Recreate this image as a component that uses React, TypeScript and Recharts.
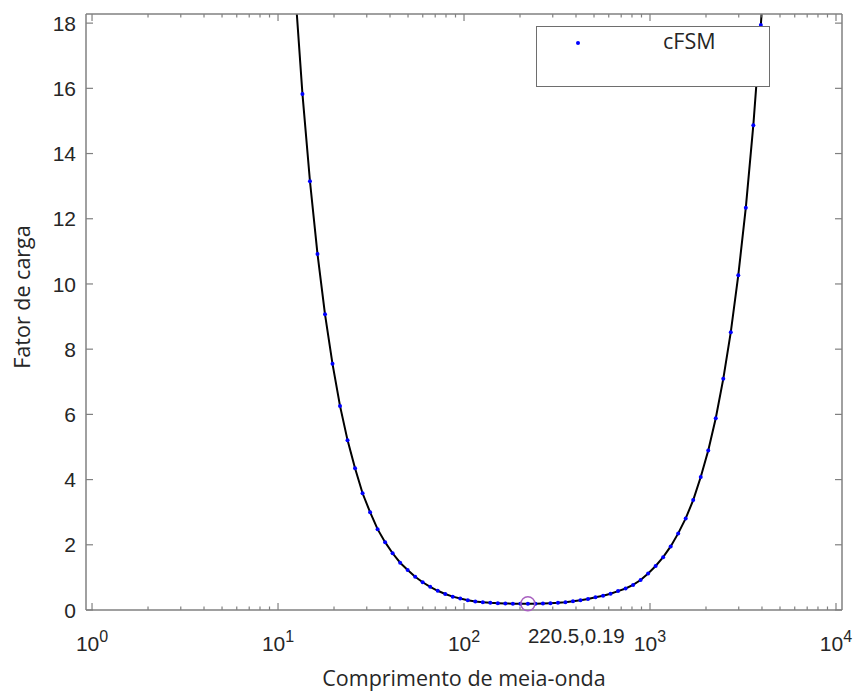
import { ComposedChart, Line, Scatter, XAxis, YAxis } from "recharts";

// half-wavelength lengths and load factor of the cFSM curve
const lengths = [
  12.33, 13.53, 14.85, 16.3, 17.89, 19.63, 21.54, 23.64, 25.95, 28.48, 31.26, 34.3,
  37.65, 41.32, 45.35, 49.77, 54.62, 59.95, 65.79, 72.21, 79.25, 86.97, 95.45, 104.76,
  114.98, 126.19, 138.49, 151.99, 166.81, 183.07, 200.92, 220.51, 242.01, 265.61, 291.5,
  319.92, 351.12, 385.35, 422.92, 464.16, 509.41, 559.08, 613.59, 673.42, 739.07, 811.13,
  890.22, 977.01, 1072.27, 1176.81, 1291.55, 1417.47, 1555.68, 1707.35, 1873.82, 2056.52,
  2257.02, 2477.08, 2718.59, 2983.65, 3274.55, 3593.81, 3944.19, 4328.76,
];
const loadFactor = [
  19.1, 15.83, 13.15, 10.92, 9.07, 7.55, 6.26, 5.21, 4.35, 3.58, 3.0, 2.48,
  2.08, 1.74, 1.45, 1.23, 1.02, 0.85, 0.71, 0.59, 0.49, 0.41, 0.35, 0.3,
  0.26, 0.24, 0.22, 0.21, 0.2, 0.195, 0.19, 0.19, 0.195, 0.2, 0.21,
  0.22, 0.24, 0.27, 0.3, 0.34, 0.39, 0.44, 0.5, 0.58, 0.66, 0.77,
  0.92, 1.12, 1.35, 1.62, 1.95, 2.35, 2.81, 3.37, 4.08, 4.89,
  5.88, 7.09, 8.52, 10.27, 12.34, 14.87, 17.94, 21.6,
];
const xMajorTicks = [1, 10, 100, 1000, 10000];
const xMinorSteps = [2, 3, 4, 5, 6, 7, 8, 9];
const yTicks = [0, 2, 4, 6, 8, 10, 12, 14, 16, 18];
const minPoint = [{ x: 220.5, y: 0.19 }];

const X_DOMAIN = [0.928, 10772];
const Y_DOMAIN = [0, 18.28];

const AXIS = "#808080";
const TEXT = "#262626";
const TICK_FONT = "'Liberation Sans', Arial, sans-serif";
const TITLE_FONT = "'Open Sans', sans-serif";

const curve = lengths.map((len, i) => ({ len, fac: loadFactor[i] }));
const xTicks = [
  ...xMajorTicks,
  ...xMajorTicks.slice(0, -1).flatMap((d) => xMinorSteps.map((s) => s * d)),
].sort((a, b) => a - b);

const isMajor = (v: number) => Math.abs(Math.log10(v) - Math.round(Math.log10(v))) < 1e-6;

function BottomTick({ x, y, payload }: any) {
  const v = payload.value;
  const major = isMajor(v);
  return (
    <g>
      <line x1={x} y1={y} x2={x} y2={y - (major ? 7 : 3.5)} stroke={AXIS} strokeWidth={1.2} />
      {major && (
        <text x={x} y={y + 41} textAnchor="middle" fontFamily={TICK_FONT} fontSize={21} fill={TEXT}>
          10
          <tspan dy={-9} fontSize={16}>
            {Math.round(Math.log10(v))}
          </tspan>
        </text>
      )}
    </g>
  );
}

function TopTick({ x, y, payload }: any) {
  const major = isMajor(payload.value);
  return <line x1={x} y1={y} x2={x} y2={y + (major ? 7 : 3.5)} stroke={AXIS} strokeWidth={1.2} />;
}

function LeftTick({ x, y, payload }: any) {
  return (
    <g>
      <line x1={x} y1={y} x2={x + 7} y2={y} stroke={AXIS} strokeWidth={1.2} />
      <text x={x - 10} y={y} dy="0.36em" textAnchor="end" fontFamily={TICK_FONT} fontSize={21} fill={TEXT}>
        {payload.value}
      </text>
    </g>
  );
}

function RightTick({ x, y }: any) {
  return <line x1={x} y1={y} x2={x - 7} y2={y} stroke={AXIS} strokeWidth={1.2} />;
}

function MinMarker(props: any) {
  const { cx, cy, payload } = props;
  return (
    <g>
      <circle cx={cx} cy={cy} r={7} fill="none" stroke="#a860c0" strokeWidth={1.4} />
      <text x={cx} y={cy + 39.5} fontFamily={TICK_FONT} fontSize={20.5} fill={TEXT}>
        {`${payload.x},${payload.y}`}
      </text>
    </g>
  );
}

function XTitle() {
  return (
    <text x={464} y={686} textAnchor="middle" fontFamily={TITLE_FONT} fontSize={21.5} fill={TEXT}>
      Comprimento de meia-onda
    </text>
  );
}

function YTitle() {
  return (
    <text
      x={30}
      y={297}
      transform="rotate(-90, 30, 297)"
      textAnchor="middle"
      fontFamily={TITLE_FONT}
      fontSize={21.5}
      fill={TEXT}
    >
      Fator de carga
    </text>
  );
}

export default function App() {
  return (
    <div style={{ position: "absolute", left: 0, top: 0, width: 855, height: 694, background: "#fff" }}>
      <ComposedChart width={855} height={694} data={curve} margin={{ top: 13, right: 12, bottom: 0, left: 0 }}>
        <XAxis
          xAxisId="bottom"
          dataKey="len"
          type="number"
          scale="log"
          domain={X_DOMAIN}
          allowDataOverflow
          ticks={xTicks}
          interval={0}
          height={84}
          tickSize={0}
          tickMargin={0}
          tickLine={false}
          tick={<BottomTick />}
          axisLine={{ stroke: AXIS, strokeWidth: 1.5 }}
          label={<XTitle />}
        />
        <XAxis
          xAxisId="top"
          orientation="top"
          dataKey="x"
          type="number"
          scale="log"
          domain={X_DOMAIN}
          ticks={xTicks}
          interval={0}
          height={1}
          tickSize={0}
          tickMargin={0}
          tickLine={false}
          tick={<TopTick />}
          axisLine={{ stroke: AXIS, strokeWidth: 1.5 }}
        />
        <YAxis
          yAxisId="left"
          type="number"
          domain={Y_DOMAIN}
          allowDataOverflow
          ticks={yTicks}
          interval={0}
          width={86}
          tickSize={0}
          tickMargin={0}
          tickLine={false}
          tick={<LeftTick />}
          axisLine={{ stroke: AXIS, strokeWidth: 1.5 }}
          label={<YTitle />}
        />
        <YAxis
          yAxisId="right"
          orientation="right"
          dataKey="y"
          type="number"
          domain={Y_DOMAIN}
          ticks={yTicks}
          interval={0}
          width={1}
          tickSize={0}
          tickMargin={0}
          tickLine={false}
          tick={<RightTick />}
          axisLine={{ stroke: AXIS, strokeWidth: 1.5 }}
        />
        <Line
          xAxisId="bottom"
          yAxisId="left"
          dataKey="fac"
          stroke="#000"
          strokeWidth={2}
          dot={false}
          activeDot={false}
          isAnimationActive={false}
        />
        <Line
          xAxisId="bottom"
          yAxisId="left"
          dataKey="fac"
          stroke="none"
          strokeWidth={0}
          dot={{ r: 2, fill: "#0000ff", stroke: "none" }}
          activeDot={false}
          isAnimationActive={false}
        />
        <Scatter
          xAxisId="top"
          yAxisId="right"
          data={minPoint}
          dataKey="y"
          shape={<MinMarker />}
          isAnimationActive={false}
        />
      </ComposedChart>
      <div
        style={{
          position: "absolute",
          left: 536,
          top: 26,
          width: 234,
          height: 61,
          boxSizing: "border-box",
          border: "1px solid #6e6e6e",
          background: "#fff",
          zIndex: 2,
        }}
      >
        <svg width={232} height={59} style={{ display: "block" }}>
          <circle cx={41} cy={16} r={2} fill="#0000ff" />
          <text x={126} y={22} fontFamily={TITLE_FONT} fontSize={21.5} fill={TEXT}>
            cFSM
          </text>
        </svg>
      </div>
    </div>
  );
}
